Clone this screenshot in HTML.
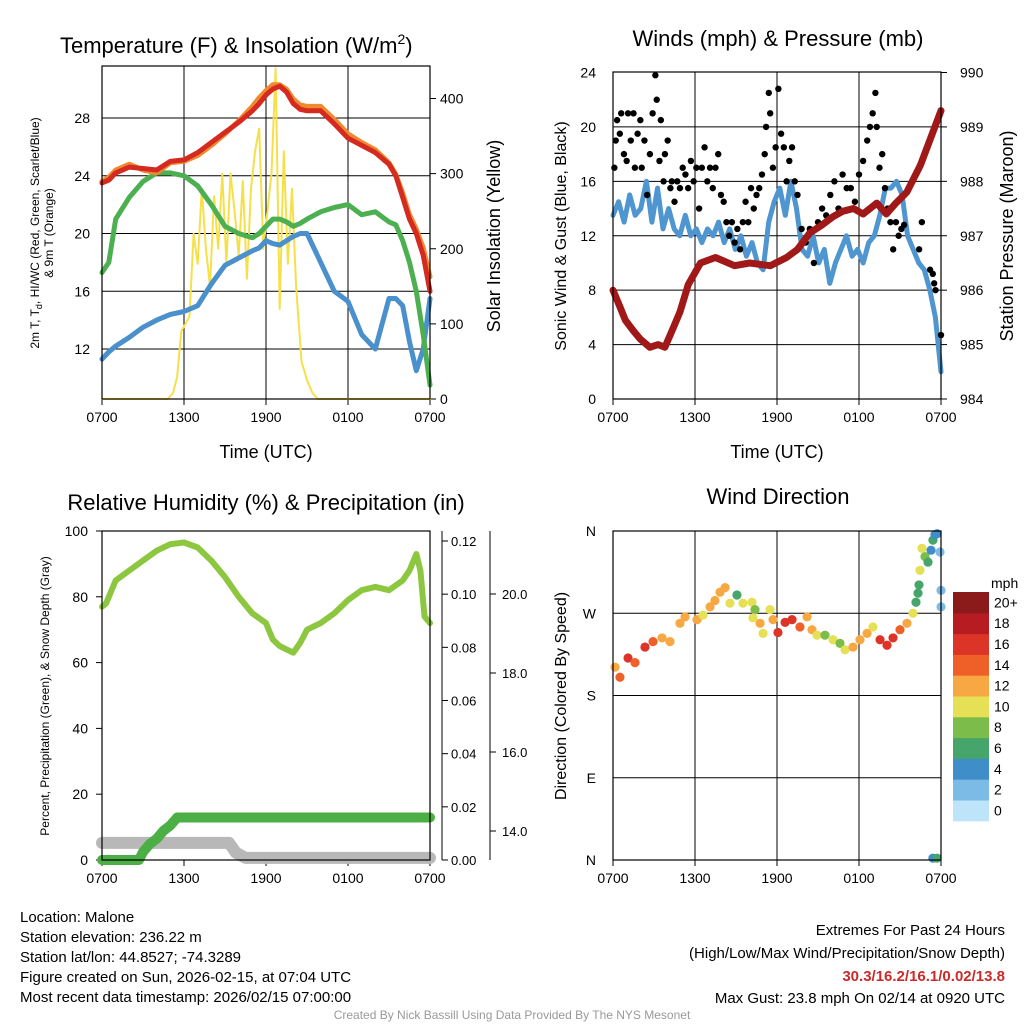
<!DOCTYPE html>
<html><head><meta charset="utf-8"><style>
body{margin:0;background:#fff;}
svg{display:block;font-family:"Liberation Sans",sans-serif;}
</style></head><body>
<svg id="c" width="1024" height="1024" viewBox="0 0 1024 1024"></svg>
<script>
// ---------- DATA ----------
const tHours=[0,0.5,1,2,3,4,5,6,7,8,9,10,11,11.5,12,12.5,13,13.5,14,14.5,15,16,17,18,19,20,21,21.5,22,22.5,23,23.5,24];
const tempRed=[23.5,23.7,24.2,24.6,24.5,24.4,25,25.1,25.6,26.3,27,27.7,28.5,29,29.6,30,30.2,29.8,29,28.6,28.5,28.5,27.6,26.6,26.1,25.6,24.8,24,22.5,21,20,18.5,16];
const tempOrange=[23.6,23.9,24.4,24.8,24.4,24.2,24.9,25,25.4,26.1,26.9,27.8,28.8,29.4,29.9,30.3,30.3,30,29.3,28.9,28.8,28.8,27.9,26.9,26.3,25.8,24.9,24.1,22.8,21.3,20.3,19,17];
const dewGreen=[17.3,18,21,22.5,23.6,24.2,24.2,24,23.3,22,20.5,20,19.7,20,20.5,21,21,20.8,20.5,20.7,21,21.5,21.8,22,21.3,21.5,20.8,20.6,19.5,18,16,13,9.5];
const bHours=[0,0.5,1,2,3,4,5,6,7,8,9,10,11,11.5,12,12.5,13,13.5,14,14.5,15,16,17,18,19,20,21,21.5,22,22.5,23,23.5,24];
const wcBlue=[11.3,11.8,12.2,12.8,13.5,14,14.4,14.6,15,16.5,17.8,18.3,18.8,19,19.5,19.3,19.2,19.5,19.8,20,20,18,16,15.3,13,12,15.5,15.5,15,12.5,10.5,12,15.5];
const solHours=[0,4.8,5.2,5.5,5.8,6.1,6.4,6.7,7.0,7.3,7.6,7.9,8.2,8.5,8.8,9.1,9.4,9.7,10.0,10.3,10.6,10.9,11.2,11.5,11.8,12.1,12.4,12.7,13.0,13.3,13.6,13.9,14.2,14.6,15.0,15.4,15.8,24];
const solar=[0,0,8,30,90,100,110,220,180,280,200,150,270,200,300,180,300,250,190,290,160,280,330,360,200,250,300,440,120,330,180,280,150,50,25,8,0,0];
const windSpeed=[13.5,14.5,13,15,13.5,14,16,13,15.5,12.5,14,12.5,12,13.5,12,12.5,11.5,12.5,12,13,11.5,12.5,11,12,10.5,11.5,10,9.5,13,14.5,15.5,13.5,16,14,11,10.5,12,10,11,8.5,10,11,12,10.5,11,10,11.5,12,13.5,15.5,15.5,16,15,12,11,10,9.5,8,6,2];
const gustHours=[0.1,0.2,0.3,0.5,0.6,0.8,1,1.1,1.3,1.5,1.6,1.8,2,2.1,2.3,2.5,2.7,2.9,3.1,3.2,3.4,3.5,3.7,3.8,4,4.2,4.3,4.5,4.7,4.9,5.1,5.3,5.5,5.7,5.9,6.1,6.3,6.5,6.7,6.9,7.1,7.3,7.5,7.7,7.9,8.1,8.3,8.5,8.7,8.9,9.1,9.3,9.5,9.7,9.9,10.1,10.3,10.5,10.7,10.9,11.1,11.2,11.4,11.5,11.7,11.9,12.1,12.3,12.5,12.7,12.9,13.1,13.3,13.5,13.8,14.1,14.4,14.7,15,15.3,15.6,15.9,16.2,16.5,16.8,17.1,17.4,17.7,18,18.3,18.6,18.8,19,19.2,19.3,19.5,19.7,19.9,20.1,20.3,20.5,20.7,20.9,21.1,21.3,22.4,22.6,23.2,23.4,23.5,23.6,24];
const gusts=[17,19,20.5,19.5,21,18,17.5,21,19,21,17,19.5,20.5,17,19,15,18,21,23.8,22,17.5,20.5,16,18,19,15.5,16,14.5,16,15.5,17,16.5,15.5,17.5,16,17,14,17,18.5,16,17,15.5,17,18,15,14.5,13,12,13,11.5,12.5,11,13,14.5,13,15.5,14,15,15.5,16.5,18,20,22.5,21,17,18.5,22.8,19.5,18.5,16,17.5,18.5,16,15,12.5,11.5,12.5,10,13,14,13.5,15,16,14,16.5,15.5,15.5,14.5,16.5,17.5,19,20,21,22.5,20,17,18,15.5,14,13,11,13,12,12.5,12.8,11,13,9.5,9.2,8.5,8,4.7];
const presHours=[0,0.5,0.9,1.5,2,2.7,3.3,3.8,4.4,4.9,5.5,6.4,7.5,8.9,10,11.5,12.7,13.5,14.4,15.3,16.1,16.8,17.6,18.3,19.3,20,20.7,21.5,22.5,23.4,24];
const pressure=[986,985.7,985.45,985.25,985.1,984.95,985,984.95,985.3,985.6,986.1,986.5,986.6,986.45,986.5,986.45,986.6,986.75,987.05,987.2,987.35,987.45,987.5,987.4,987.6,987.4,987.6,987.8,988.3,988.9,989.3];
const rhHours=[0,0.3,1,2,3,4,5,6,7,8,9,10,11,12,12.5,13,13.5,14,14.5,15,16,17,18,19,20,21,22,22.5,23,23.3,23.6,24];
const rh=[77,78,85,88,91,94,96,96.5,95,91,86,80,75,72,67,65,64,63,66,70,72,75,79,82,83,82,85,88,93,88,74,72];
const precipHours=[0,2.7,3,3.5,4,4.5,5,5.5,24];
const precip=[0,0,0.003,0.006,0.008,0.011,0.013,0.016,0.016];
const snowHours=[0,9.3,9.8,10.5,24];
const snow=[13.7,13.7,13.45,13.32,13.32];
const dirHours=[0.15,0.51,1.10,1.61,2.34,2.93,3.59,4.17,4.90,5.27,6.15,6.59,7.10,7.46,7.83,8.20,8.56,9.07,9.51,10.17,10.39,10.24,10.76,10.98,11.49,11.71,12.07,12.59,13.10,13.68,14.20,14.56,14.93,15.51,16.10,16.61,16.98,17.56,18.07,18.59,19.02,19.54,20.05,20.49,21.00,21.51,21.95,22.17,22.32,22.39,22.46,22.83,22.61,23.05,23.27,23.41,23.56,23.71,23.93,24.0,24.0,23.41,23.71];
const dirDeg=[211,200,221,216,233,239,243,239,259,266,263,268,277,284,293,298,281,290,281,282,274,265,259,248,274,263,249,260,263,255,266,252,246,246,241,237,230,233,241,248,255,241,235,243,252,259,270,282,292,301,317,332,341,326,339,350,356,357,337,295,277,2,2];
const dirSpeed=[13,14,16,14,16,14,13,12,12,12,12,11,12,12,13,12,10,7,10,10,8,10,12,10,10,12,16,17,16,15,13,12,10,8,10,9,10,12,13,12,10,16,17,17,15,13,11,7,7,7,10,8,10,6,5,6,5,4,3,3,3,5,6];
const xTickLabels=["0700","1300","1900","0100","0700"];
const speedLabels=["0","2","4","6","8","10","12","14","16","18","20+"];
const speedColors=["#bde4f8","#7cbbe6","#3f8ec9","#45a56a","#7cbc4a","#e5e056","#f7a843","#ef6029","#dc3427","#b71c23","#8b1a1a"];

// ---------- HELPERS ----------
const svg=document.getElementById('c');
const NS="http://www.w3.org/2000/svg";
function mk(tag,attrs,parent){const e=document.createElementNS(NS,tag);for(const k in attrs)e.setAttribute(k,attrs[k]);(parent||svg).appendChild(e);return e;}
function txt(s,x,y,size,anchor,extra){const e=mk('text',Object.assign({x:x,y:y,'font-size':size,'text-anchor':anchor||'start',fill:'#000'},extra||{}));e.textContent=s;return e;}
function lin(d0,d1,r0,r1){return v=>r0+(v-d0)*(r1-r0)/(d1-d0);}
function poly(xs,ys,xf,yf,stroke,w,name){const pts=xs.map((h,i)=>xf(h).toFixed(1)+","+yf(ys[i]).toFixed(1)).join(" ");
 const p=mk('polyline',{points:pts,fill:'none',stroke:stroke,'stroke-width':w,'stroke-linejoin':'round','stroke-linecap':'round'});
 
 return p;}
function frame(x0,y0,x1,y1,name){const r=mk('rect',{x:x0,y:y0,width:x1-x0,height:y1-y0,fill:'none',stroke:'#000','stroke-width':1.2});
 
 }
function xAxis(x0,x1,y1,grid,y0){const xf=lin(0,24,x0,x1);
 xTickLabels.forEach((l,i)=>{const x=xf(i*6);
  if(grid&&i>0&&i<4)mk('line',{x1:x,y1:y0,x2:x,y2:y1,stroke:'#000','stroke-width':1});
  mk('line',{x1:x,y1:y1,x2:x,y2:y1+6,stroke:'#000'});
  const t=txt(l,x,y1+23,14,'middle');
  
  });
 return xf;}

// ---------- PANEL 1 ----------
{const X0=102,X1=430,Y0=66,Y1=399;
 const yf=lin(12,28,349,118), sf=lin(0,400,399,98.5);
 [12,16,20,24,28].forEach(v=>{mk('line',{x1:X0,y1:yf(v),x2:X1,y2:yf(v),stroke:'#000'});
  const t=txt(String(v),90,yf(v)+5,14,'end');});
 [0,100,200,300,400].forEach(v=>{mk('line',{x1:X1,y1:sf(v),x2:X1+6,y2:sf(v),stroke:'#000'});
  const t=txt(String(v),440,sf(v)+5,14);});
 const xf=xAxis(X0,X1,Y1,true,Y0);
 poly(solHours,solar,xf,sf,'#f6e04a',2,'solar-insolation-line');
 poly(bHours,wcBlue,xf,yf,'#4a90cc',5,'wind-chill-line');
 poly(tHours,dewGreen,xf,yf,'#4caf50',5,'dewpoint-line');
 poly(tHours,tempOrange,xf,yf,'#f08a30',5,'temp-9m-line');
 poly(tHours,tempRed,xf,yf,'#d42a20',5,'temp-2m-line');
 frame(X0,Y0,X1,Y1,'temperature-plot-frame');
 const t=txt('Temperature (F) & Insolation (W/m',60,53,22);const ts=mk('tspan',{dy:-9,'font-size':14},t);ts.textContent='2';const ts2=mk('tspan',{dy:9},t);ts2.textContent=')';
 
 const a=txt('Time (UTC)',266,458,18,'middle');
 const l1=txt('2m T, T',0,0,12,'middle',{transform:'translate(39,233) rotate(-90)'});const sb=mk('tspan',{dy:3,'font-size':9},l1);sb.textContent='d';const r1=mk('tspan',{dy:-3},l1);r1.textContent=', HI/WC (Red, Green, Scarlet/Blue)';
 
 const l2=txt('& 9m T (Orange)',0,0,12,'middle',{transform:'translate(53,233) rotate(-90)'});
 const r=txt('Solar Insolation (Yellow)',0,0,18,'middle',{transform:'translate(500,236) rotate(-90)'});}

// ---------- PANEL 2 ----------
{const X0=613,X1=941,Y0=72,Y1=399;
 const yf=lin(0,24,399,72.5), pf=lin(984,990,399,72.5);
 [0,4,8,12,16,20,24].forEach(v=>{if(v>0&&v<24)mk('line',{x1:X0,y1:yf(v),x2:X1,y2:yf(v),stroke:'#000'});
  const t=txt(String(v),596,yf(v)+5,14,'end');});
 [984,985,986,987,988,989,990].forEach(v=>{mk('line',{x1:X1,y1:pf(v),x2:X1+6,y2:pf(v),stroke:'#000'});
  const t=txt(String(v),960,pf(v)+5,14);});
 const xf=xAxis(X0,X1,Y1,true,Y0);
 const wH=windSpeed.map((v,i)=>i*24/(windSpeed.length-1));
 poly(wH,windSpeed,xf,yf,'#4f95d0',5,'sonic-wind-line');
 gustHours.forEach((h,i)=>{const c=mk('circle',{cx:xf(h),cy:yf(gusts[i]),r:3.2,fill:'#000'});
  
  });
 poly(presHours,pressure,xf,pf,'#a01818',7,'pressure-line');
 frame(X0,Y0,X1,Y1,'wind-plot-frame');
 const t=txt('Winds (mph) & Pressure (mb)',778,46,22,'middle');
 const a=txt('Time (UTC)',777,458,18,'middle');
 const l=txt('Sonic Wind & Gust (Blue, Black)',0,0,16,'middle',{transform:'translate(566,236) rotate(-90)'});
 const r=txt('Station Pressure (Maroon)',0,0,18,'middle',{transform:'translate(1013,236) rotate(-90)'});}

// ---------- PANEL 3 ----------
{const X0=102,X1=430,Y0=531,Y1=860;
 const yf=lin(0,100,860,531), prf=lin(0,0.12,860,541), snf=lin(14,20,831,594);
 [0,20,40,60,80,100].forEach(v=>{mk('line',{x1:X0-6,y1:yf(v),x2:X0,y2:yf(v),stroke:'#000'});
  const t=txt(String(v),88,yf(v)+5,14,'end');});
 mk('line',{x1:442,y1:531,x2:442,y2:860,stroke:'#000'});
 [0,0.02,0.04,0.06,0.08,0.10,0.12].forEach(v=>{mk('line',{x1:442,y1:prf(v),x2:448,y2:prf(v),stroke:'#000'});
  const t=txt(v.toFixed(2),451,prf(v)+5,13);});
 mk('line',{x1:490,y1:531,x2:490,y2:860,stroke:'#000'});
 [14,16,18,20].forEach(v=>{mk('line',{x1:490,y1:snf(v),x2:496,y2:snf(v),stroke:'#000'});
  const t=txt(v.toFixed(1),502,snf(v)+5,13);});
 const xf=xAxis(X0,X1,Y1,false,Y0);
 poly(snowHours,snow,xf,snf,'#b8b8b8',12,'snow-depth-line');
 poly(precipHours,precip,xf,prf,'#4caf45',10,'precipitation-line');
 poly(rhHours,rh,xf,yf,'#8dc63f',6,'relative-humidity-line');
 frame(X0,Y0,X1,Y1,'humidity-plot-frame');
 const t=txt('Relative Humidity (%) & Precipitation (in)',266,510,22,'middle');
 const l=txt('Percent, Precipitation (Green), & Snow Depth (Gray)',0,0,12,'middle',{transform:'translate(49,696) rotate(-90)'});}

// ---------- PANEL 4 ----------
{const X0=613,X1=941,Y0=531,Y1=860;
 const yf=lin(0,360,860,531);
 const dl=[["N",0],["E",90],["S",180],["W",270],["N",360]];
 dl.forEach(d=>{const y=yf(d[1]);if(d[1]>0&&d[1]<360)mk('line',{x1:X0,y1:y,x2:X1,y2:y,stroke:'#000'});
  const t=txt(d[0],596,y+5,14,'end');});
 const xf=xAxis(X0,X1,Y1,true,Y0);
 dirHours.forEach((h,i)=>{const b=Math.max(0,Math.min(10,Math.floor(dirSpeed[i]/2)));
  const c=mk('circle',{cx:xf(h),cy:yf(dirDeg[i]),r:4.6,fill:speedColors[b]});
  
  });
 frame(X0,Y0,X1,Y1,'direction-plot-frame');
 const cbH=20.8, cbTop=592;
 speedLabels.forEach((s,i)=>{const y=cbTop+(10-i)*cbH;
  const r=mk('rect',{x:953,y:y,width:36,height:cbH+0.5,fill:speedColors[i]});
  
  
  const t=txt(s,994,y+cbH/2+5,14);
  
  });
 const m=txt('mph',991,588,14);
 const t=txt('Wind Direction',778,504,22,'middle');
 const l=txt('Direction (Colored By Speed)',0,0,16,'middle',{transform:'translate(566,696) rotate(-90)'});}

// ---------- FOOTER ----------
{const left=["Location: Malone","Station elevation: 236.22 m","Station lat/lon: 44.8527; -74.3289","Figure created on Sun, 2026-02-15, at 07:04 UTC","Most recent data timestamp: 2026/02/15 07:00:00"];
 left.forEach((s,i)=>{const t=txt(s,20,922+i*20,15);});
 const a=txt('Extremes For Past 24 Hours',1005,935,15,'end');
 const b=txt('(High/Low/Max Wind/Precipitation/Snow Depth)',1005,958,15,'end');
 const c=txt('30.3/16.2/16.1/0.02/13.8',1005,981,15,'end',{fill:'#cc2a2a','font-weight':'bold'});
 const d=txt('Max Gust: 23.8 mph On 02/14 at 0920 UTC',1005,1003,15,'end');
 const e=txt('Created By Nick Bassill Using Data Provided By The NYS Mesonet',512,1019,12,'middle',{fill:'#999'});}
</script>
</body></html>
